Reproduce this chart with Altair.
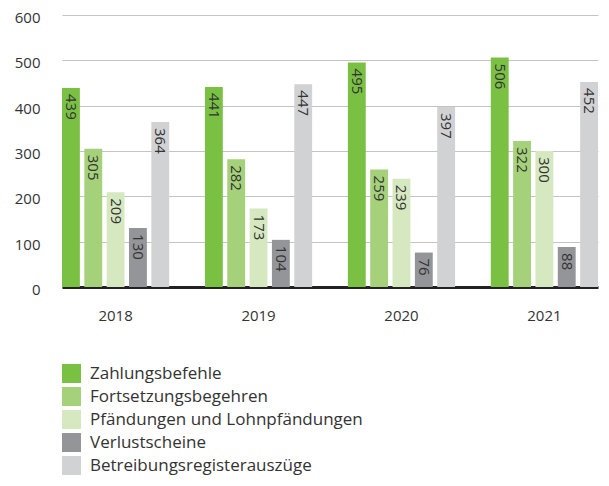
import altair as alt
import pandas as pd

years = ["2018", "2019", "2020", "2021"]
series = ["Zahlungsbefehle", "Fortsetzungsbegehren", "Pfändungen und Lohnpfändungen",
          "Verlustscheine", "Betreibungsregisterauszüge"]
colors = ["#7ac143", "#a5d17a", "#d5e8c0", "#939598", "#d1d2d4"]
zahlungsbefehle = [439, 441, 495, 506]
fortsetzung = [305, 282, 259, 322]
pfaendungen = [209, 173, 239, 300]
verlust = [130, 104, 76, 88]
auszuege = [364, 447, 397, 452]

values = [zahlungsbefehle, fortsetzung, pfaendungen, verlust, auszuege]
rows = []
for s, vals in zip(series, values):
    for y, v in zip(years, vals):
        rows.append({"Jahr": y, "Serie": s, "Wert": v})
df = pd.DataFrame(rows)

FONT = "Open Sans"

x = alt.X("Jahr:N", sort=years, title=None,
          scale=alt.Scale(paddingInner=0.25, paddingOuter=0, align=0),
          axis=alt.Axis(labelAngle=0, labelFontSize=15, labelColor="#333333",
                        labelFont=FONT, ticks=False, labelPadding=21,
                        domainColor="#222222", domainWidth=3))
xo = alt.XOffset("Serie:N", sort=series,
                 scale=alt.Scale(paddingInner=0.2, paddingOuter=0))
y = alt.Y("Wert:Q", title=None,
          scale=alt.Scale(domain=[0, 600], nice=False),
          axis=alt.Axis(values=[0, 100, 200, 300, 400, 500, 600], labelFontSize=15,
                        labelColor="#333333", labelFont=FONT, ticks=False,
                        domain=False, labelPadding=22, labelOffset=2.5,
                        gridColor="#c4c4c4", gridWidth=1))

bars = alt.Chart(df).mark_bar().encode(
    x=x, xOffset=xo, y=y,
    color=alt.Color("Serie:N", sort=series,
                    scale=alt.Scale(domain=series, range=colors),
                    legend=alt.Legend(title=None, orient="none", legendX=0, legendY=349,
                                      direction="vertical", symbolType="square",
                                      symbolSize=361, symbolStrokeWidth=0,
                                      labelFontSize=17, labelFont=FONT, labelLimit=0,
                                      labelColor="#333333", rowPadding=4,
                                      labelOffset=9, padding=0)),
)

labels = alt.Chart(df).mark_text(angle=90, align="left", baseline="middle", dx=6,
                                 fontSize=15, font=FONT, color="#333333").encode(
    x=alt.X("Jahr:N", sort=years), xOffset=alt.XOffset("Serie:N", sort=series),
    y=alt.Y("Wert:Q"), text=alt.Text("Wert:Q"),
)

chart = alt.layer(bars, labels).properties(
    width=536, height=272,
    autosize=alt.AutoSizeParams(type="none"),
    padding={"left": 54, "top": 7, "right": 3, "bottom": 191},
).configure_view(stroke=None)

chart.save("out.html", embed_options={"renderer": "svg", "actions": False})
